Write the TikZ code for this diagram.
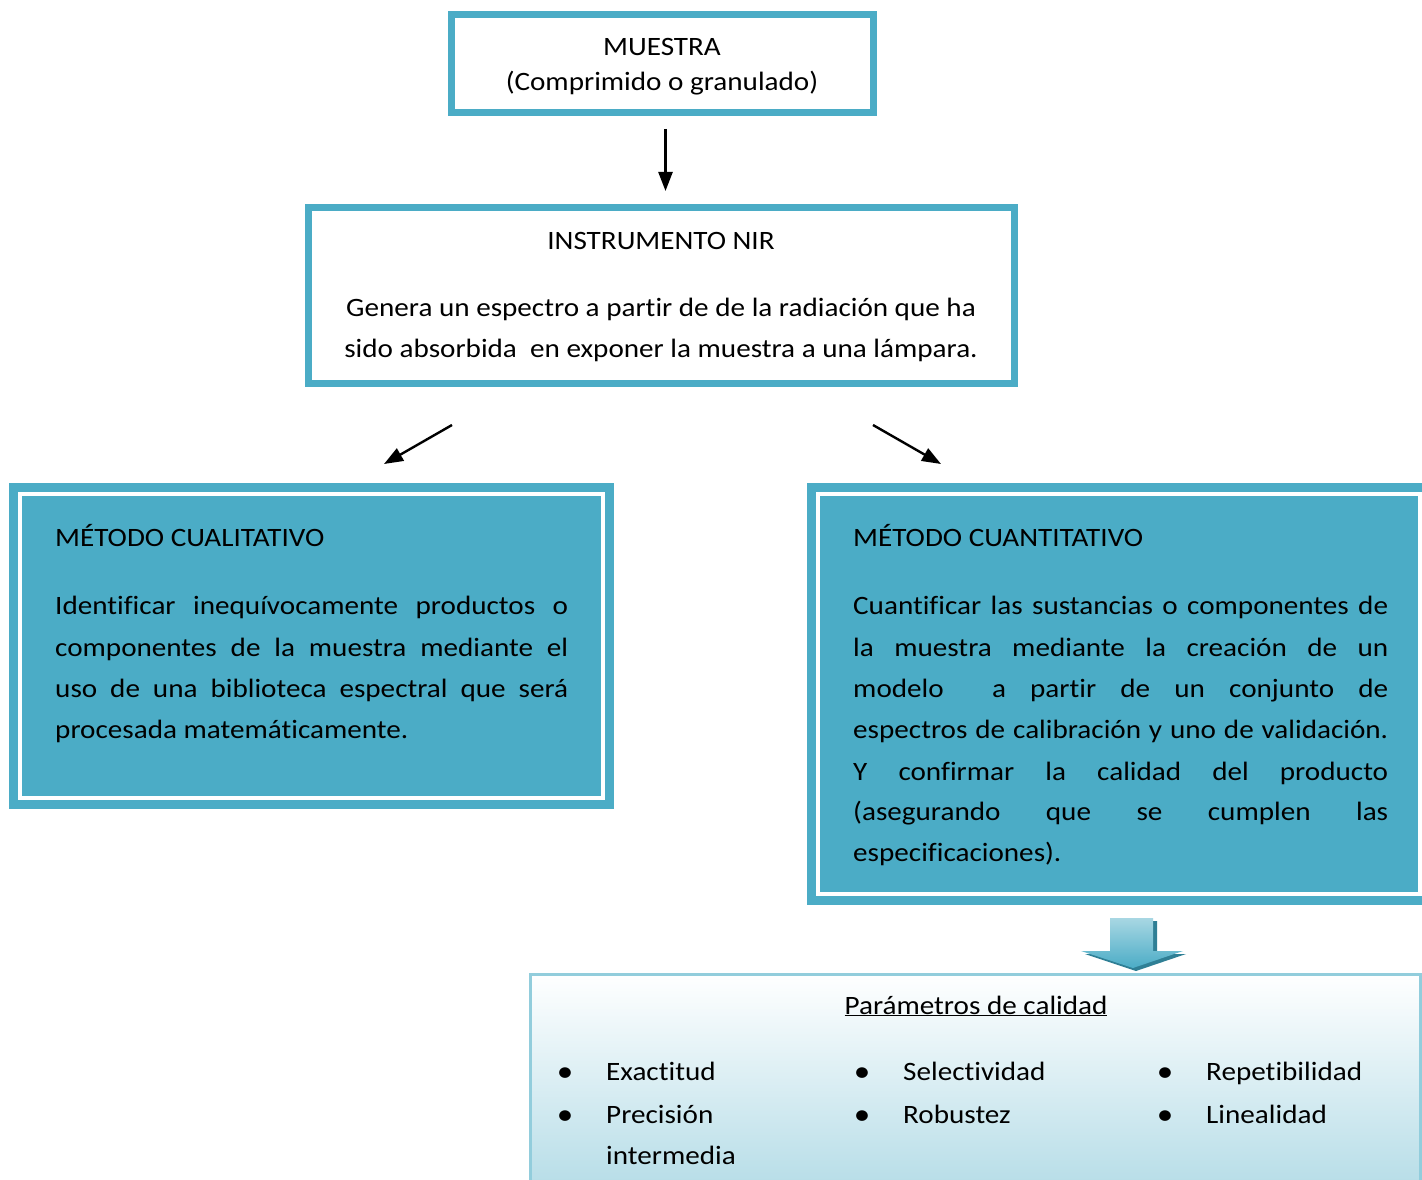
\documentclass[tikz,border=0pt]{standalone}
\usepackage{fontspec}
\setmainfont{Carlito}[FakeStretch=1.10,Ligatures={NoCommon}]
\usetikzlibrary{arrows.meta,shadings}
\definecolor{acc}{HTML}{4BACC6}
\definecolor{accl}{HTML}{92CDDC}
\definecolor{accd}{HTML}{2F7F95}
\definecolor{pale}{HTML}{B2DBE6}
\tikzset{
  txt/.style={inner sep=0pt, anchor=base west, font=\fontsize{26.5}{31}\selectfont},
  ctxt/.style={inner sep=0pt, anchor=base, font=\fontsize{26.5}{31}\selectfont},
  whitebox/.style={draw=acc, line width=7pt, fill=white, inner sep=0pt},
  tealbox/.style={draw=white, line width=4pt, fill=acc, inner sep=0pt},
  arr/.style={line width=2.4pt, -{Triangle[width=14pt,length=19pt]}},
  bul/.style={inner sep=0pt, anchor=base, font=\fontsize{30}{31}\selectfont}
}
\begin{document}
\begin{tikzpicture}[x=1pt,y=-1pt]
\clip (0,0) rectangle (1422,1180);
\fill[white] (0,0) rectangle (1422,1180);

% boxes
\node[whitebox, minimum width=422pt, minimum height=98pt] (muestra) at (662.5,63.5) {};
\node[whitebox, minimum width=706pt, minimum height=176pt] (instr) at (661.5,295.5) {};
\fill[acc] (9,483) rectangle (614,809);
\node[tealbox, minimum width=583pt, minimum height=304pt] (qual) at (311.5,646) {};
\fill[acc] (807,483) rectangle (1431,905);
\node[tealbox, minimum width=602.5pt, minimum height=400pt] (quant) at (1118.75,694) {};
\shade[top color=white, bottom color=pale, draw=accl, line width=3pt] (530.5,974.5) rectangle (1420.5,1200);
\node[inner sep=0pt, minimum width=890pt, minimum height=225pt] (param) at (975.5,1087) {};

% block arrow
\fill[accd] (1114,921) -- (1157,921) -- (1157,954) -- (1186,954) -- (1136,971) -- (1085,954) -- (1114,954) -- cycle;
\shade[top color=accl!80!white, bottom color=acc] (1110,918) -- (1153,918) -- (1153,951) -- (1183,951) -- (1133,968) -- (1081,951) -- (1110,951) -- cycle;

% connectors
\coordinate (c1) at (452,425);
\coordinate (c2) at (384,464);
\coordinate (c3) at (873,425);
\coordinate (c4) at (941,464);
\draw[arr, shorten <=13pt, shorten >=13pt] ([xshift=3pt]muestra.south) -- ([xshift=3pt]muestra.south |- instr.north);
\draw[arr] (c1) -- (c2);
\draw[arr] (c3) -- (c4);

% texts
\node[ctxt] (t1) at (662,56) {MUESTRA};
\node[ctxt] (t2) at (662,91) {(Comprimido o granulado)};
\node[ctxt] (t3) at (661,249) {INSTRUMENTO NIR};
\node[ctxt] (t4) at (661,316) {Genera un espectro a partir de de la radiación que ha};
\node[ctxt] (t5) at (661,357) {sido absorbida\ \ en exponer la muestra a una lámpara.};

\node[txt] (q0) at (55,546) {MÉTODO CUALITATIVO};
\node[txt] (q1) at (55,614) {\makebox[513pt][s]{Identificar inequívocamente productos o}};
\node[txt] (q2) at (55,656) {\makebox[513pt][s]{componentes de la muestra mediante el}};
\node[txt] (q3) at (55,697) {\makebox[513pt][s]{uso de una biblioteca espectral que será}};
\node[txt] (q4) at (55,738) {procesada matemáticamente.};

\node[txt] (k0) at (853,546) {MÉTODO CUANTITATIVO};
\node[txt] (k1) at (853,614) {\makebox[535pt][s]{Cuantificar las sustancias o componentes de}};
\node[txt] (k2) at (853,656) {\makebox[535pt][s]{la muestra mediante la creación de un}};
\node[txt] (k3) at (853,697) {\makebox[535pt][s]{modelo\ \ a partir de un conjunto de}};
\node[txt] (k4) at (853,738) {\makebox[535pt][s]{espectros de calibración y uno de validación.}};
\node[txt] (k5) at (853,780) {\makebox[535pt][s]{Y confirmar la calidad del producto}};
\node[txt] (k6) at (853,820) {\makebox[535pt][s]{(asegurando que se cumplen las}};
\node[txt] (k7) at (853,861) {especificaciones).};

\node[ctxt] (p0) at (976,1014) {\underline{Parámetros de calidad}};
\node[bul] (b1) at (565,1081) {•};
\node[bul] (b2) at (565,1124) {•};
\node[bul] (b3) at (862,1081) {•};
\node[bul] (b4) at (862,1124) {•};
\node[bul] (b5) at (1165,1081) {•};
\node[bul] (b6) at (1165,1124) {•};
\node[txt] (e1) at (606,1080) {Exactitud};
\node[txt] (e2) at (606,1123) {Precisión};
\node[txt] (e3) at (606,1164) {intermedia};
\node[txt] (e4) at (903,1080) {Selectividad};
\node[txt] (e5) at (903,1123) {Robustez};
\node[txt] (e6) at (1206,1080) {Repetibilidad};
\node[txt] (e7) at (1206,1123) {Linealidad};
\end{tikzpicture}
\end{document}
